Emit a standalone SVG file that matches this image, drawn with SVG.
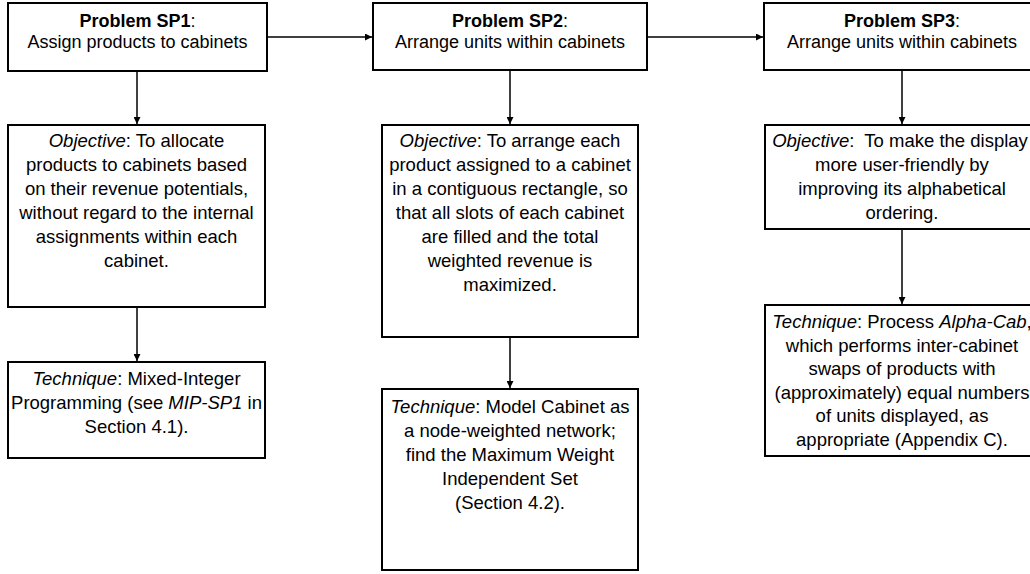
<svg xmlns="http://www.w3.org/2000/svg" width="1030" height="574" viewBox="0 0 1030 574">
  <style>
    .box { fill: #ffffff; stroke: #000000; stroke-width: 2; }
    .conn { stroke: #000000; stroke-width: 1.5; fill: none; marker-end: url(#ah); }
    text { font-family: "Liberation Sans", Arial, sans-serif; font-size: 18.5px; fill: #000000; text-anchor: middle; }
    .t { font-size: 18px; }
    .b { font-weight: bold; }
    .i { font-style: italic; }
  </style>
  <defs>
    <marker id="ah" viewBox="0 0 10 10" refX="10" refY="5" markerWidth="7" markerHeight="7" markerUnits="userSpaceOnUse" orient="auto">
      <path d="M0,0 L10,5 L0,10 z" fill="#000000"/>
    </marker>
  </defs>
  <rect x="0" y="0" width="1030" height="574" fill="#ffffff"/>

  <g id="connectors">
    <line class="conn" x1="267" y1="37" x2="372" y2="37"/>
    <line class="conn" x1="647" y1="37" x2="763" y2="37"/>
    <line class="conn" x1="137" y1="71" x2="137" y2="124"/>
    <line class="conn" x1="137" y1="307" x2="137" y2="361"/>
    <line class="conn" x1="510" y1="70" x2="510" y2="124"/>
    <line class="conn" x1="510" y1="337" x2="510" y2="388"/>
    <line class="conn" x1="902" y1="70" x2="902" y2="124"/>
    <line class="conn" x1="902" y1="229" x2="902" y2="304"/>
  </g>

  <g id="sp1">
    <rect class="box" x="8" y="3" width="259" height="68"/>
    <text class="t" x="137.5" y="27"><tspan class="b">Problem SP1</tspan>:</text>
    <text class="t" x="137.5" y="48">Assign products to cabinets</text>
  </g>
  <g id="sp2">
    <rect class="box" x="373" y="3" width="274" height="67"/>
    <text class="t" x="510" y="27"><tspan class="b">Problem SP2</tspan>:</text>
    <text class="t" x="510" y="48">Arrange units within cabinets</text>
  </g>
  <g id="sp3">
    <rect class="box" x="764" y="3" width="276" height="67"/>
    <text class="t" x="902" y="27"><tspan class="b">Problem SP3</tspan>:</text>
    <text class="t" x="902" y="48">Arrange units within cabinets</text>
  </g>

  <g id="obj1">
    <rect class="box" x="8" y="125" width="257" height="182"/>
    <text x="136.5" y="147"><tspan class="i">Objective</tspan>: To allocate</text>
    <text x="136.5" y="171">products to cabinets based</text>
    <text x="136.5" y="195">on their revenue potentials,</text>
    <text x="136.5" y="219">without regard to the internal</text>
    <text x="136.5" y="243">assignments within each</text>
    <text x="136.5" y="267">cabinet.</text>
  </g>
  <g id="obj2">
    <rect class="box" x="382" y="125" width="256" height="212"/>
    <text x="510" y="147"><tspan class="i">Objective</tspan>: To arrange each</text>
    <text x="510" y="171">product assigned to a cabinet</text>
    <text x="510" y="195">in a contiguous rectangle, so</text>
    <text x="510" y="219">that all slots of each cabinet</text>
    <text x="510" y="243">are filled and the total</text>
    <text x="510" y="267">weighted revenue is</text>
    <text x="510" y="291">maximized.</text>
  </g>
  <g id="obj3">
    <rect class="box" x="765" y="125" width="275" height="104"/>
    <text x="900" y="147" xml:space="preserve"><tspan class="i">Objective</tspan>:  To make the display</text>
    <text x="902" y="171">more user-friendly by</text>
    <text x="902" y="195">improving its alphabetical</text>
    <text x="902" y="219">ordering.</text>
  </g>

  <g id="tech1">
    <rect class="box" x="8" y="362" width="257" height="96"/>
    <text x="136.5" y="385"><tspan class="i">Technique</tspan>: Mixed-Integer</text>
    <text x="136.5" y="409">Programming (see <tspan class="i">MIP-SP1</tspan> in</text>
    <text x="136.5" y="433">Section 4.1).</text>
  </g>
  <g id="tech2">
    <rect class="box" x="382" y="389" width="256" height="181"/>
    <text x="510" y="413"><tspan class="i">Technique</tspan>: Model Cabinet as</text>
    <text x="510" y="437">a node-weighted network;</text>
    <text x="510" y="461">find the Maximum Weight</text>
    <text x="510" y="485">Independent Set</text>
    <text x="510" y="509">(Section 4.2).</text>
  </g>
  <g id="tech3">
    <rect class="box" x="765" y="305" width="275" height="151"/>
    <text x="902" y="328"><tspan class="i">Technique</tspan>: Process <tspan class="i">Alpha-Cab</tspan>,</text>
    <text x="902" y="351.5">which performs inter-cabinet</text>
    <text x="902" y="375">swaps of products with</text>
    <text x="902" y="398.5">(approximately) equal numbers</text>
    <text x="902" y="422">of units displayed, as</text>
    <text x="902" y="445.5">appropriate (Appendix C).</text>
  </g>
</svg>
